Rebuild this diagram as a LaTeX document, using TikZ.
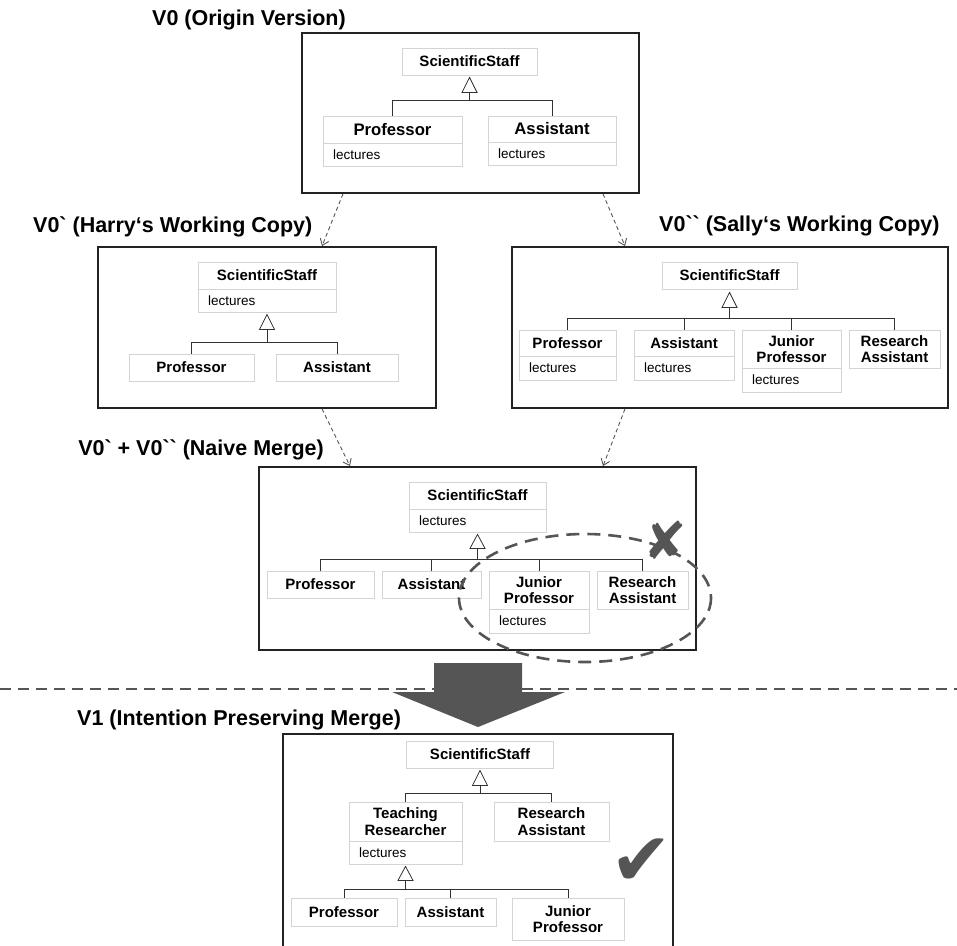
\documentclass[tikz,border=0pt]{standalone}
\usepackage{fontspec}
\newfontfamily\lsans{Liberation Sans}
\newfontfamily\djv{DejaVu Sans}
\usetikzlibrary{arrows.meta}
\definecolor{frm}{HTML}{222222}
\definecolor{clsb}{HTML}{D4D4D4}
\definecolor{lnk}{HTML}{333333}
\definecolor{mkgray}{HTML}{555555}
\tikzset{
  frame/.style={draw=frm, line width=1.8pt, inner sep=0pt},
  hd/.style={draw=clsb, line width=0.8pt, fill=white, inner sep=0pt, align=center,
    font=\lsans\bfseries\fontsize{15}{16.7}\selectfont},
  hdbig/.style={hd, font=\lsans\bfseries\fontsize{16.7}{18}\selectfont},
  attrbox/.style={draw=clsb, line width=0.8pt, fill=white, inner xsep=10pt, inner ysep=0pt,
    align=left, font=\lsans\fontsize{13.5}{15}\selectfont},
  inh/.style={draw=lnk, line width=0.8pt},
  tri/.style={draw=lnk, line width=0.8pt, fill=white},
  dep/.style={draw=mkgray, line width=0.9pt, dash pattern=on 4pt off 3pt,
    -{Straight Barb[length=6pt,width=9pt]}},
  title/.style={font=\lsans\bfseries\fontsize{21.5}{24}\selectfont, inner sep=0pt, anchor=base west}
}
\begin{document}
\begin{tikzpicture}[x=1pt, y=-1pt, font=\lsans]
\useasboundingbox (0,0) rectangle (957,945);

% ---------- titles ----------
\node[title] (t0) at (152,25) {V0 (Origin Version)};
\node[title] (t1) at (33,232) {V0` (Harry‘s Working Copy)};
\node[title] (t2) at (659,231) {V0`` (Sally‘s Working Copy)};
\node[title, anchor=base east] (t3) at (324,455) {V0` + V0`` (Naive Merge)};
\node[title] (t4) at (77,725) {V1 (Intention Preserving Merge)};

% ---------- frames ----------
\node[frame, minimum width=337pt, minimum height=160pt] (f0) at (470.5,113) {};
\node[frame, minimum width=338pt, minimum height=161pt] (f1) at (267,327.5) {};
\node[frame, minimum width=436pt, minimum height=161pt] (f2) at (730,327.5) {};
\node[frame, minimum width=437pt, minimum height=183pt] (f3) at (477.5,558.5) {};
\node[frame, minimum width=390pt, minimum height=226pt] (f4) at (478,847) {};

% ---------- V0 ----------
\node[hd, minimum width=135pt, minimum height=27pt] (ss0) at (469.5,61.5) {ScientificStaff};
\node[hdbig, minimum width=139pt, minimum height=27pt] (p0) at (392.5,129.5) {Professor};
\node[attrbox, text width=119pt, minimum height=23pt] (p0a) at (392.5,154.5) {lectures};
\node[hdbig, minimum width=128pt, minimum height=26pt] (a0) at (552,129) {Assistant};
\node[attrbox, text width=108pt, minimum height=23pt] (a0a) at (552,153.5) {lectures};
\draw[tri] ([yshift=-2pt]ss0.south) -- ++(-7.5,15) -- ++(15,0) -- cycle;
\draw[inh] ([yshift=-17pt]ss0.south) -- (ss0.south |- 0,100);
\draw[inh] (p0.north) -- (p0.north |- 0,100) -- (a0.north |- 0,100) -- (a0.north);

% ---------- V0` ----------
\node[hd, minimum width=138pt, minimum height=27pt] (ss1) at (267,275.5) {ScientificStaff};
\node[attrbox, text width=118pt, minimum height=23pt] (ss1a) at (267,300.5) {lectures};
\node[hd, minimum width=125pt, minimum height=27pt] (p1) at (191.5,367.5) {Professor};
\node[hd, minimum width=122pt, minimum height=27pt] (a1) at (337,367.5) {Assistant};
\draw[tri] ([yshift=-2pt]ss1a.south) -- ++(-7.5,15) -- ++(15,0) -- cycle;
\draw[inh] ([yshift=-17pt]ss1a.south) -- (ss1a.south |- 0,342);
\draw[inh] (p1.north) -- (p1.north |- 0,342) -- (a1.north |- 0,342) -- (a1.north);

% ---------- V0`` ----------
\node[hd, minimum width=135pt, minimum height=27pt] (ss2) at (729.5,275.5) {ScientificStaff};
\node[hd, minimum width=97pt, minimum height=26pt] (p2) at (567.5,343) {Professor};
\node[attrbox, text width=77pt, minimum height=24pt] (p2a) at (567.5,368) {lectures};
\node[hd, minimum width=100pt, minimum height=26pt] (a2) at (684,343) {Assistant};
\node[attrbox, text width=80pt, minimum height=24pt] (a2a) at (684,368) {lectures};
\node[hd, minimum width=99pt, minimum height=38pt] (j2) at (791.5,349) {Junior\\Professor};
\node[attrbox, text width=79pt, minimum height=24pt] (j2a) at (791.5,380) {lectures};
\node[hd, minimum width=91pt, minimum height=38pt] (r2) at (894.5,349) {Research\\Assistant};
\draw[tri] ([yshift=-3pt]ss2.south) -- ++(-7.5,15) -- ++(15,0) -- cycle;
\draw[inh] ([yshift=-18pt]ss2.south) -- (ss2.south |- 0,318);
\draw[inh] (p2.north) -- (p2.north |- 0,318) -- (r2.north |- 0,318) -- (r2.north);
\draw[inh] (a2.north) -- (a2.north |- 0,318);
\draw[inh] (j2.north) -- (j2.north |- 0,318);

% ---------- Naive merge ----------
\node[hd, minimum width=137pt, minimum height=27pt] (ss3) at (477.5,495.5) {ScientificStaff};
\node[attrbox, text width=117pt, minimum height=23pt] (ss3a) at (477.5,520.5) {lectures};
\node[hd, minimum width=107pt, minimum height=27pt] (p3) at (320.5,584.5) {Professor};
\node[hd, minimum width=99pt, minimum height=27pt] (a3) at (431.5,584.5) {Assistant};
\node[hd, minimum width=100pt, minimum height=38pt] (j3) at (539,590) {Junior\\Professor};
\node[attrbox, text width=80pt, minimum height=24pt] (j3a) at (539,621) {lectures};
\node[hd, minimum width=91pt, minimum height=38pt] (r3) at (642.5,590) {Research\\Assistant};
\draw[tri] ([yshift=-2pt]ss3a.south) -- ++(-7.5,14) -- ++(15,0) -- cycle;
\draw[inh] ([yshift=-16pt]ss3a.south) -- (ss3a.south |- 0,559);
\draw[inh] (p3.north) -- (p3.north |- 0,559) -- (r3.north |- 0,559) -- (r3.north);
\draw[inh] (a3.north) -- (a3.north |- 0,559);
\draw[inh] (j3.north) -- (j3.north |- 0,559);

% ---------- dependency arrows ----------
\draw[dep] (f0.south -| 343,0) -- (f1.north -| 322,0);
\draw[dep] (f0.south -| 603,0) -- (f2.north -| 625,0);
\draw[dep] (f1.south -| 322,0) -- (f3.north -| 350,0);
\draw[dep] (f2.south -| 625,0) -- (f3.north -| 603,0);

% ---------- conflict marking ----------
\draw[draw=mkgray, line width=2.6pt, dash pattern=on 13pt off 8pt] (585,598) ellipse [x radius=126, y radius=64];
\node[text=mkgray, font=\djv\fontsize{52}{52}\selectfont, inner sep=0pt] (xm) at (665,540) {✘};

% ---------- separator & big arrow ----------
\draw[draw=mkgray, line width=1.4pt, dash pattern=on 11pt off 7pt] (0,689) -- (957,689);
\fill[fill=mkgray] (434,663) -- (522,663) -- (522,692) -- (565,692) -- (478,727) -- (392,692) -- (434,692) -- cycle;

% ---------- V1 ----------
\node[hd, minimum width=147pt, minimum height=27pt] (ss4) at (480,754.5) {ScientificStaff};
\node[hd, minimum width=113pt, minimum height=39pt] (tr4) at (405.5,821.5) {Teaching\\Researcher};
\node[attrbox, text width=93pt, minimum height=23pt] (tr4a) at (405.5,852.5) {lectures};
\node[hd, minimum width=115pt, minimum height=39pt] (r4) at (551.5,821.5) {Research\\Assistant};
\node[hd, minimum width=106pt, minimum height=28pt] (p4) at (344,912) {Professor};
\node[hd, minimum width=91pt, minimum height=28pt] (a4) at (450.5,912) {Assistant};
\node[hd, minimum width=112pt, minimum height=42pt] (j4) at (568,919) {Junior\\Professor};
\draw[tri] ([yshift=-2pt]ss4.south) -- ++(-7.5,15) -- ++(15,0) -- cycle;
\draw[inh] ([yshift=-17pt]ss4.south) -- (ss4.south |- 0,793);
\draw[inh] (tr4.north) -- (tr4.north |- 0,793) -- (r4.north |- 0,793) -- (r4.north);
\draw[tri] ([yshift=-2pt]tr4a.south) -- ++(-7.5,14) -- ++(15,0) -- cycle;
\draw[inh] ([yshift=-16pt]tr4a.south) -- (tr4a.south |- 0,889);
\draw[inh] (p4.north) -- (p4.north |- 0,889) -- (j4.north |- 0,889) -- (j4.north);
\draw[inh] (a4.north) -- (a4.north |- 0,889);
\node[text=mkgray, font=\djv\fontsize{74}{74}\selectfont, inner sep=0pt] (ok) at (641,862) {✔};
\end{tikzpicture}
\end{document}
